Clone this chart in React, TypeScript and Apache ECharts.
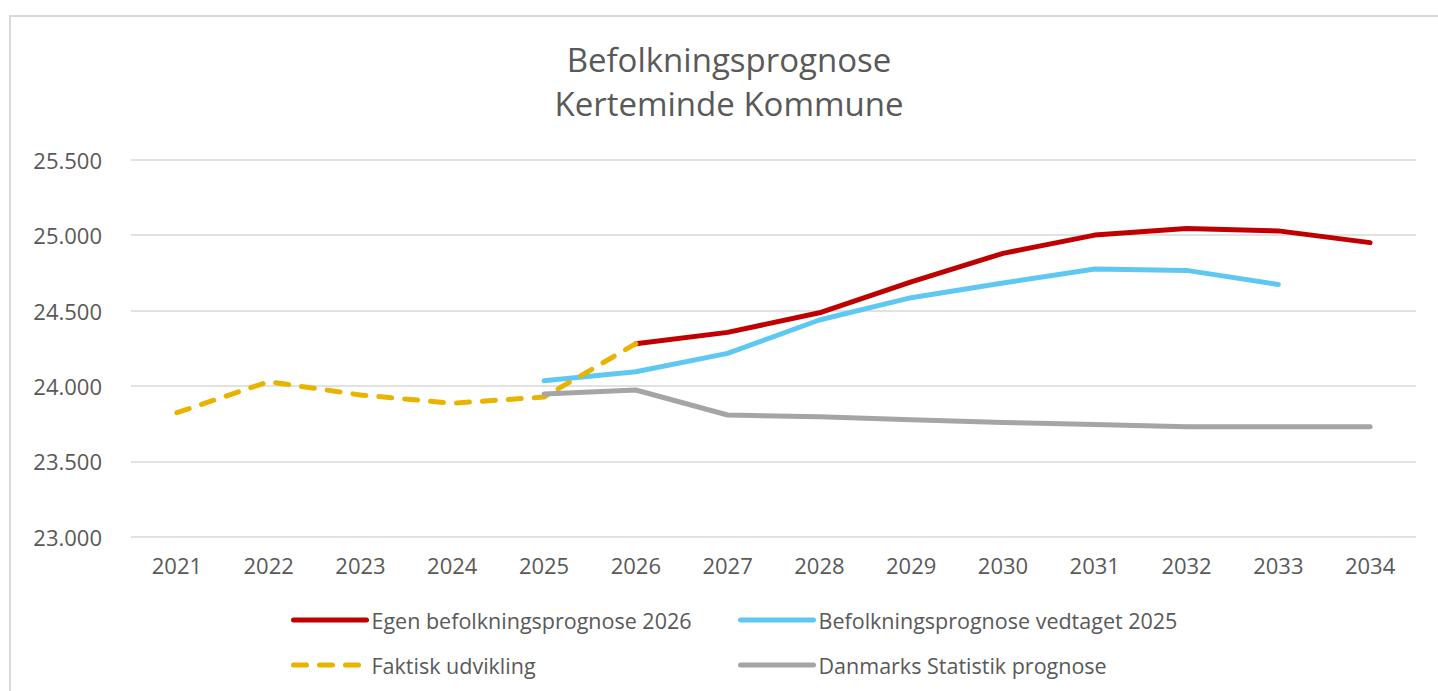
import React, { useEffect, useRef } from "react";
import * as echarts from "echarts";

const years = ["2021", "2022", "2023", "2024", "2025", "2026", "2027", "2028", "2029", "2030", "2031", "2032", "2033", "2034"];

const egenPrognose2026 = [null, null, null, null, null, 24280, 24355, 24485, 24690, 24879, 25000, 25043, 25028, 24950];
const prognoseVedtaget2025 = [null, null, null, null, 24034, 24094, 24216, 24437, 24585, 24682, 24775, 24766, 24672, null];
const faktiskUdvikling = [23822, 24028, 23940, 23885, 23926, 24280, null, null, null, null, null, null, null, null];
const danmarksStatistik = [null, null, null, null, 23946, 23973, 23807, 23795, 23775, 23757, 23744, 23729, 23729, 23729];

const seriesNames = [
  "Egen befolkningsprognose 2026",
  "Befolkningsprognose vedtaget 2025",
  "Faktisk udvikling",
  "Danmarks Statistik prognose",
];
const seriesColors = ["#C00000", "#5EC8F2", "#E8B400", "#A5A5A5"];

const yMin = 23000;
const yMax = 25500;
const yStep = 500;

const FONT = "'Open Sans', 'Liberation Sans', sans-serif";
const TXT = "#595959";
const DASH = [13, 13];

function fmt(v: number) {
  return String(v).replace(/\B(?=(\d{3})+(?!\d))/g, ".");
}

export default function App() {
  const ref = useRef<HTMLDivElement>(null);

  useEffect(() => {
    document.body.style.margin = "0";
    document.body.style.overflow = "hidden";
    const chart = echarts.init(ref.current!, undefined, { renderer: "svg" });

    const lineCommon = {
      type: "line" as const,
      symbol: "none",
      showSymbol: false,
      connectNulls: false,
    };

    const legendItem = (i: number, left: number, top: number) => ({
      orient: "horizontal" as const,
      data: [seriesNames[i]],
      left,
      top,
      itemWidth: 73,
      itemHeight: 14,
      itemGap: 8,
      padding: 0,
      selectedMode: false,
      itemStyle: { opacity: 0 },
      lineStyle: {
        color: seriesColors[i],
        width: 5,
        cap: "round",
        type: i === 2 ? DASH : "solid",
      },
      textStyle: {
        color: TXT,
        fontSize: 21.5,
        fontFamily: FONT,
        lineHeight: 24,
      },
    });

    chart.setOption({
      animation: false,
      backgroundColor: "#ffffff",
      textStyle: { fontFamily: FONT },
      title: {
        text: "Befolkningsprognose\nKerteminde Kommune",
        left: 724,
        top: 32,
        textAlign: "center",
        textStyle: { color: TXT, fontSize: 33, fontWeight: "normal", fontFamily: FONT, lineHeight: 44 },
      },
      graphic: [
        {
          type: "rect",
          silent: true,
          shape: { x: 10, y: 16, width: 1440, height: 700 },
          style: { fill: "none", stroke: "#d9d9d9", lineWidth: 2 },
        },
      ],
      legend: [
        legendItem(0, 291, 608),
        legendItem(1, 738, 608),
        legendItem(2, 291, 653),
        legendItem(3, 738, 653),
      ],
      grid: { left: 131, right: 22, top: 159.7, bottom: 154.3, containLabel: false },
      xAxis: {
        type: "category",
        data: years,
        boundaryGap: true,
        axisLine: { show: false },
        axisTick: { show: false },
        axisLabel: { color: TXT, fontSize: 22, fontFamily: FONT, margin: 17 },
      },
      yAxis: {
        type: "value",
        min: yMin,
        max: yMax,
        interval: yStep,
        axisLine: { show: false },
        axisTick: { show: false },
        splitLine: { lineStyle: { color: "#d9d9d9", width: 1.6 } },
        axisLabel: { color: TXT, fontSize: 22, fontFamily: FONT, margin: 29, formatter: (v: number) => fmt(v) },
      },
      series: [
        {
          ...lineCommon,
          name: seriesNames[0],
          data: egenPrognose2026,
          lineStyle: { color: seriesColors[0], width: 5, cap: "round", join: "round" },
          itemStyle: { color: seriesColors[0] },
        },
        {
          ...lineCommon,
          name: seriesNames[1],
          data: prognoseVedtaget2025,
          lineStyle: { color: seriesColors[1], width: 5, cap: "round", join: "round" },
          itemStyle: { color: seriesColors[1] },
        },
        {
          ...lineCommon,
          name: seriesNames[2],
          data: faktiskUdvikling,
          lineStyle: { color: seriesColors[2], width: 5, type: DASH, cap: "round", join: "round" },
          itemStyle: { color: seriesColors[2] },
        },
        {
          ...lineCommon,
          name: seriesNames[3],
          data: danmarksStatistik,
          lineStyle: { color: seriesColors[3], width: 5, cap: "round", join: "round" },
          itemStyle: { color: seriesColors[3] },
        },
      ],
    });

    return () => chart.dispose();
  }, []);

  return <div ref={ref} style={{ width: 1438, height: 691 }} />;
}
